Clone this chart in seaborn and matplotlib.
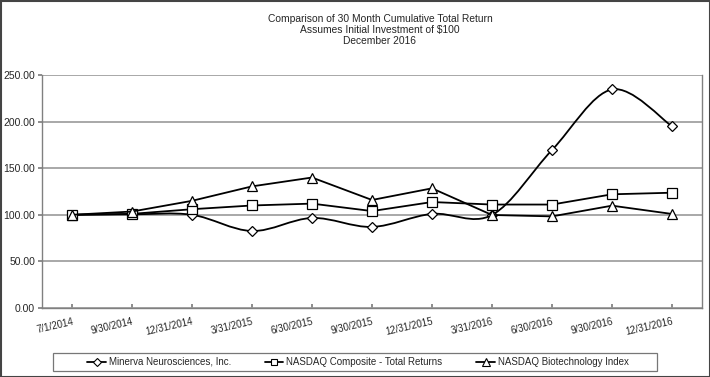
import matplotlib
matplotlib.use("Agg")
import matplotlib.pyplot as plt
import seaborn as sns
import pandas as pd
import numpy as np
from matplotlib.patches import Rectangle, PathPatch
from matplotlib.path import Path
from matplotlib.lines import Line2D

dates = ["7/1/2014", "9/30/2014", "12/31/2014", "3/31/2015", "6/30/2015", "9/30/2015",
         "12/31/2015", "3/31/2016", "6/30/2016", "9/30/2016", "12/31/2016"]
minerva = [100.0, 100.5, 100.0, 82.6, 96.6, 87.0, 101.0, 99.8, 169.5, 234.5, 195.0]
nasdaq_comp = [100.0, 101.0, 106.0, 110.0, 112.0, 104.0, 113.7, 111.0, 111.0, 122.0, 123.7]
nasdaq_bio = [100.0, 103.5, 115.0, 130.5, 140.0, 115.9, 128.4, 99.8, 98.3, 109.8, 100.9]
series_names = ["Minerva Neurosciences, Inc.", "NASDAQ Composite - Total Returns",
                "NASDAQ Biotechnology Index"]
yticks = [0, 50, 100, 150, 200, 250]

sns.set_theme(style="white")
plt.rcParams['font.family'] = ['Liberation Sans', 'DejaVu Sans']

fig = plt.figure(figsize=(7.1, 3.77), dpi=100)
ax = fig.add_axes([42/710, 1-308/377, 660/710, 233/377])

x = np.arange(len(dates))


def smooth_path(xs, ys):
    # Catmull-Rom style smoothed Bezier path through the data points
    pts = np.column_stack([xs, ys]).astype(float)
    n = len(pts)
    verts = [pts[0]]
    codes = [Path.MOVETO]
    for i in range(n - 1):
        p0 = pts[i - 1] if i > 0 else pts[i]
        p1 = pts[i]
        p2 = pts[i + 1]
        p3 = pts[i + 2] if i + 2 < n else pts[i + 1]
        c1 = p1 + (p2 - p0) / 6.0
        c2 = p2 - (p3 - p1) / 6.0
        verts += [c1, c2, p2]
        codes += [Path.CURVE4] * 3
    return Path(verts, codes)


markers = ["D", "s", "^"]
msizes = [5.5, 7, 7.5]
smooth = [True, False, False]
handles = []
for name, vals, m, ms, sm in zip(series_names, [minerva, nasdaq_comp, nasdaq_bio], markers, msizes, smooth):
    df = pd.DataFrame({"x": x, "y": vals})
    if sm:
        ax.add_patch(PathPatch(smooth_path(df["x"], df["y"]), facecolor="none",
                               edgecolor="black", linewidth=1.3, zorder=3))
        lw = 0
    else:
        lw = 1.3
    sns.lineplot(data=df, x="x", y="y", ax=ax, color="black", linewidth=lw,
                 marker=m, markersize=ms, markerfacecolor="white",
                 markeredgecolor="black", markeredgewidth=0.9, legend=False, zorder=4)
    handles.append(Line2D([], [], color="black", linewidth=1.3, marker=m,
                          markersize=ms * 0.7, markerfacecolor="white",
                          markeredgecolor="black", markeredgewidth=0.8, label=name))

ax.set_xlim(-0.5, len(dates) - 0.5)
ax.set_ylim(0, 250)
ax.set_yticks(yticks)
ax.set_yticklabels([f"{v:.2f}" for v in yticks], fontsize=7.5)
ax.set_xticks(x)
ax.set_xticklabels(dates, rotation=13, fontsize=7, ha="right", rotation_mode="anchor")
ax.tick_params(axis="x", length=3, color="#808080", direction="in", bottom=True, pad=6)
ax.tick_params(axis="y", length=3, color="#808080", direction="out", left=True, pad=2)
ax.set_xlabel("")
ax.set_ylabel("")
ax.grid(axis="y", color="#9a9a9a", linewidth=1.2)
ax.set_axisbelow(True)
ax.spines["top"].set_visible(False)
for s in ["left", "bottom", "right"]:
    ax.spines[s].set_color("#808080")
    ax.spines[s].set_linewidth(1.0)

tx = 380/710
fig.text(tx, 1-19/377, "Comparison of 30 Month Cumulative Total Return", ha="center", va="center", fontsize=7.4)
fig.text(tx, 1-30/377, "Assumes Initial Investment of $100", ha="center", va="center", fontsize=7.4)
fig.text(tx, 1-41/377, "December 2016", ha="center", va="center", fontsize=7.4)

leg = fig.legend(handles=handles, loc="center", bbox_to_anchor=(358/710, 1-362/377), ncol=3,
                 fontsize=7, frameon=False,
                 handlelength=1.9, columnspacing=3.5, handletextpad=0.3, borderpad=0.45,
                 borderaxespad=0)
fig.patches.append(Rectangle((53/710, 1-371/377), (657-53)/710, 18/377, transform=fig.transFigure,
                             fill=False, edgecolor="#777777", linewidth=0.9))

fig.patches.append(Rectangle((0.5/710, 0.5/377), 709/710, 376/377, transform=fig.transFigure,
                             fill=False, edgecolor="#444444", linewidth=1.5))

fig.savefig("out.png", dpi=100)
